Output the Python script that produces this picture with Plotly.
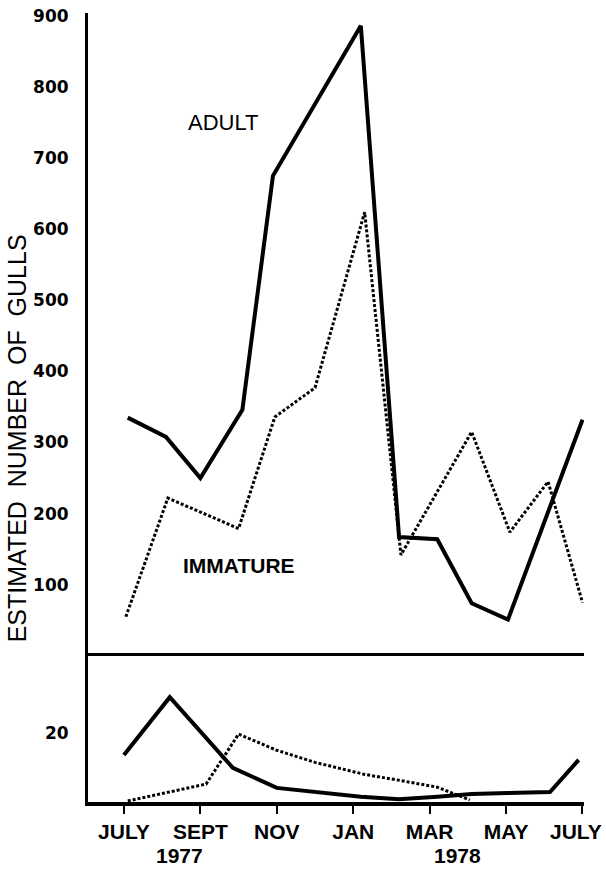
import plotly.graph_objects as go
from plotly.subplots import make_subplots

# month offsets from July 1977 (0) to July 1978 (12)
adult_months = [0.1, 1.1, 2.0, 3.1, 3.9, 6.2, 7.2, 8.2, 9.1, 10.05, 12.0]
adult_counts = [335, 308, 250, 346, 675, 886, 167, 164, 74, 51, 332]

immature_months = [0.05, 1.15, 3.0, 3.95, 5.0, 6.3, 7.25, 9.1, 10.1, 11.1, 12.0]
immature_counts = [55, 222, 179, 336, 377, 624, 142, 315, 174, 245, 75]

adult_low_months = [0.0, 1.2, 2.85, 4.0, 6.2, 7.2, 8.2, 9.1, 10.05, 11.15, 11.9]
adult_low_counts = [13.6, 30.4, 9.9, 4.1, 1.5, 0.8, 1.5, 2.3, 2.6, 2.9, 12.2]

immature_low_months = [0.1, 2.15, 3.0, 4.0, 5.0, 6.3, 7.2, 8.2, 9.05]
immature_low_counts = [0.3, 5.2, 19.7, 15.0, 11.5, 8.0, 6.3, 4.3, 0.6]

tick_months = [0, 2, 4, 6, 8, 10, 12]
tick_labels = ["JULY", "SEPT", "NOV", "JAN", "MAR", "MAY", "JULY"]
upper_ticks = [100, 200, 300, 400, 500, 600, 700, 800, 900]
lower_ticks = [20]

SANS = "Liberation Sans"
DIGITS = "DejaVu Sans"
BLACK = "#000000"

fig = make_subplots(rows=2, cols=1, shared_xaxes=False, vertical_spacing=0,
                    row_heights=[0.8112, 0.1888])

fig.add_trace(go.Scatter(x=adult_months, y=adult_counts, mode="lines",
                         line=dict(color=BLACK, width=4), showlegend=False), row=1, col=1)
fig.add_trace(go.Scatter(x=immature_months, y=immature_counts, mode="lines",
                         line=dict(color=BLACK, width=3, dash="3px,2px"), showlegend=False), row=1, col=1)
fig.add_trace(go.Scatter(x=adult_low_months, y=adult_low_counts, mode="lines",
                         line=dict(color=BLACK, width=4), showlegend=False), row=2, col=1)
fig.add_trace(go.Scatter(x=immature_low_months, y=immature_low_counts, mode="lines",
                         line=dict(color=BLACK, width=3, dash="3px,2px"), showlegend=False), row=2, col=1)

# the last month label sits against the right edge; it is drawn as an annotation
# nudged slightly left so it is not clipped, the others stay as axis tick labels
axis_ticktext = tick_labels[:-1] + [""]

xrange = [-0.94, 12.04]
fig.update_xaxes(range=xrange, showgrid=False, zeroline=False, showline=True,
                 linecolor=BLACK, linewidth=3, row=1, col=1, automargin=False,
                 showticklabels=False, ticks="")
fig.update_xaxes(range=xrange, showgrid=False, zeroline=False, showline=True,
                 linecolor=BLACK, linewidth=4, row=2, col=1, automargin=False,
                 tickmode="array", tickvals=tick_months, ticktext=axis_ticktext,
                 ticks="outside", ticklen=8, tickwidth=2, tickcolor=BLACK,
                 ticklabelstandoff=0, ticklabeloverflow="allow",
                 tickfont=dict(family=SANS, size=21, color=BLACK, weight="bold"))
fig.update_yaxes(range=[4, 904], showgrid=False, zeroline=False, showline=True,
                 linecolor=BLACK, linewidth=3, ticks="", automargin=False,
                 tickmode="array", tickvals=upper_ticks,
                 ticklabelstandoff=13, ticklabeloverflow="allow",
                 tickfont=dict(family=DIGITS, size=17, color=BLACK, weight="bold"),
                 row=1, col=1)
fig.update_yaxes(range=[0, 43.2], showgrid=False, zeroline=False, showline=True,
                 linecolor=BLACK, linewidth=3, ticks="", automargin=False,
                 tickmode="array", tickvals=lower_ticks,
                 ticklabelstandoff=13, ticklabeloverflow="allow",
                 tickfont=dict(family=DIGITS, size=17, color=BLACK, weight="bold"),
                 row=2, col=1)

NB = "\u00a0"
title_text = f"ESTIMATED{NB}{NB}NUMBER{NB}{NB}OF{NB}{NB}GULLS"


def label(text, x, y, size, bold=False, angle=0):
    font = dict(family=SANS, size=size, color=BLACK)
    if bold:
        font["weight"] = "bold"
    return dict(text=text, x=x, y=y, xref="paper", yref="paper", showarrow=False,
                xanchor="center", yanchor="middle", textangle=angle, font=font)


last_label = dict(text=tick_labels[-1], x=tick_months[-1], xref="x2", y=0, yref="paper",
                  yanchor="top", xanchor="right", yshift=-16, xshift=22, showarrow=False,
                  font=dict(family=SANS, size=21, color=BLACK, weight="bold"))

annotations = [
    label("ADULT", 0.274, 0.861, 22),
    label("IMMATURE", 0.304, 0.300, 21, bold=True),
    label("1977", 0.185, -0.068, 21, bold=True),
    label("1978", 0.744, -0.068, 21, bold=True),
    label(title_text, -0.143, 0.461, 25, angle=-90),
    last_label,
]

fig.update_layout(width=606, height=871, margin=dict(l=88, r=22, t=13, b=69),
                  plot_bgcolor="white", paper_bgcolor="white",
                  annotations=annotations, showlegend=False)

# remove the browser's default body margin so the figure fills the window exactly
fig.write_html("out.html", config={"displayModeBar": False},
               post_script="document.body.style.margin='0px';document.body.style.overflow='hidden';")
